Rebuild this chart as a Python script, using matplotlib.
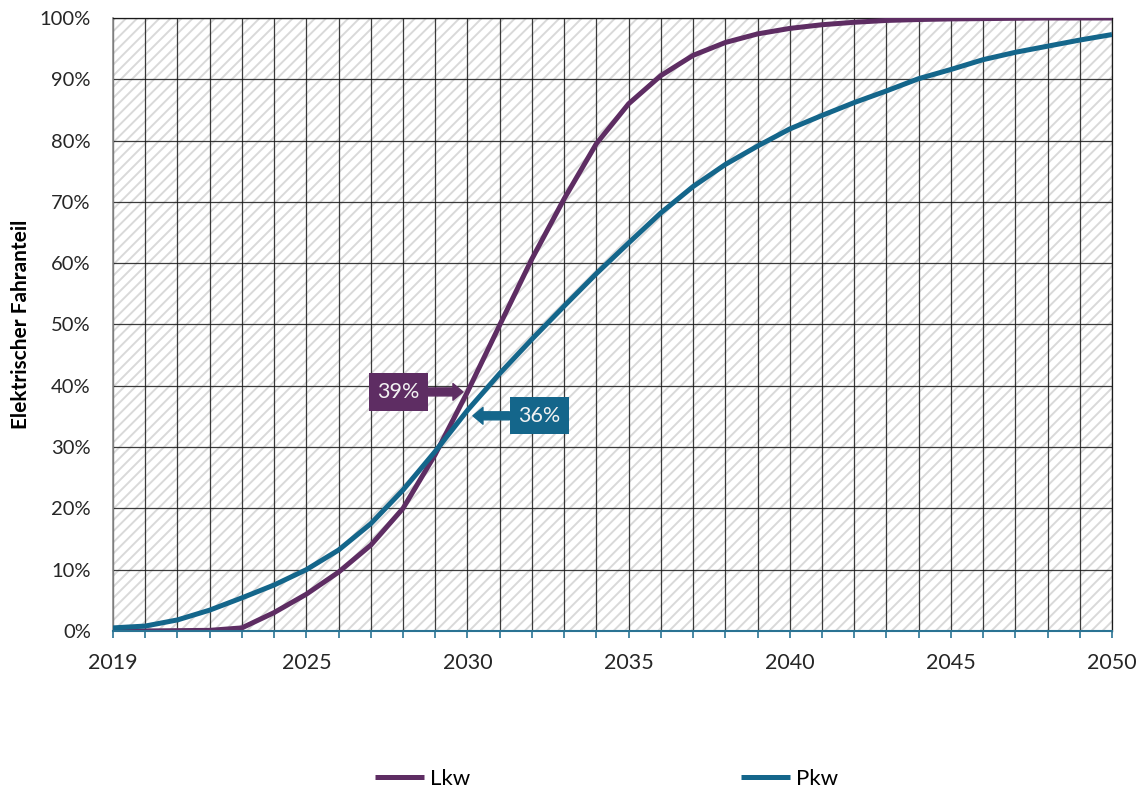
import matplotlib
matplotlib.use("Agg")
import matplotlib.pyplot as plt
from matplotlib.patches import Rectangle
from matplotlib.ticker import FixedLocator, FuncFormatter

plt.rcParams["font.family"] = ["Lato", "DejaVu Sans"]
plt.rcParams["hatch.linewidth"] = 1.4

# Elektrischer Fahranteil je Jahr (in %)
years = list(range(2019, 2051))
lkw = [0, 0, 0.05, 0.1, 0.5, 3.0, 6.0, 9.6, 14.0, 20.0, 28.8, 39.0,
       49.9, 60.7, 70.5, 79.5, 86.0, 90.6, 93.9, 96.0, 97.4, 98.3,
       98.9, 99.3, 99.6, 99.75, 99.85, 99.9, 99.95, 100, 100, 100]
pkw = [0.5, 0.8, 1.8, 3.4, 5.4, 7.5, 10.0, 13.2, 17.5, 23.0, 29.3, 36.0,
       42.0, 47.6, 53.0, 58.3, 63.3, 68.2, 72.5, 76.1, 79.1, 81.9,
       84.1, 86.2, 88.1, 90.1, 91.6, 93.2, 94.4, 95.4, 96.4, 97.3]
labelled_years = [2019, 2025, 2030, 2035, 2040, 2045, 2050]
mark_year = 2030

LKW_COLOR = "#5e2d63"
PKW_COLOR = "#14668b"
AXIS_COLOR = "#2a7393"

fig = plt.figure(figsize=(11.39, 7.89), dpi=100)
ax = fig.add_axes([0.0992, 0.2003, 0.8771, 0.7769])

# schraffierter Hintergrund
ax.add_patch(Rectangle((0, 0), 1, 1, transform=ax.transAxes, facecolor="white",
                       edgecolor="#d9d9d9", hatch="///", linewidth=0, zorder=0))

ax.plot(years, lkw, color=LKW_COLOR, lw=3.6, label="Lkw", zorder=3,
        solid_capstyle="butt")
ax.plot(years, pkw, color=PKW_COLOR, lw=3.6, label="Pkw", zorder=3,
        solid_capstyle="butt")

ax.set_xlim(2019, 2050)
ax.set_ylim(0, 100)

ax.xaxis.set_major_locator(FixedLocator(years))
ax.xaxis.set_major_formatter(FuncFormatter(
    lambda v, p: str(int(round(v))) if int(round(v)) in labelled_years else ""))
ax.yaxis.set_major_locator(FixedLocator(range(0, 101, 10)))
ax.yaxis.set_major_formatter(FuncFormatter(lambda v, p: f"{int(v)}%"))

ax.tick_params(axis="x", direction="out", length=5, width=1.2,
               color=AXIS_COLOR, pad=11, labelsize=15.5, labelcolor="#262626")
ax.tick_params(axis="y", length=0, pad=16, labelsize=14.5, labelcolor="#262626")

ax.grid(True, color="#1a1a1a", linewidth=0.9, alpha=0.85)
ax.set_axisbelow(True)

for side in ["top", "right"]:
    ax.spines[side].set_color("#1a1a1a")
    ax.spines[side].set_linewidth(0.9)
ax.spines["left"].set_color("#8c8c8c")
ax.spines["left"].set_linewidth(1.2)
ax.spines["bottom"].set_color(AXIS_COLOR)
ax.spines["bottom"].set_linewidth(1.5)
ax.spines["bottom"].set_zorder(4)

ax.set_ylabel("Elektrischer Fahranteil", fontsize=15, fontweight="bold",
              labelpad=6)

# Wertmarken für 2030
lkw_val = lkw[years.index(mark_year)]
pkw_val = pkw[years.index(mark_year)]

ax.text(2027.86, lkw_val, f"{lkw_val:.0f}%", ha="center", va="center",
        fontsize=15.5, color="#f2f2f2", zorder=6,
        bbox=dict(boxstyle="square,pad=0.4", fc=LKW_COLOR, ec="none"))
ax.annotate("", xy=(mark_year - 0.14, lkw_val), xytext=(2028.75, lkw_val),
            arrowprops=dict(arrowstyle="simple,head_length=0.6,head_width=1.0,tail_width=0.48",
                            mutation_scale=12, color=LKW_COLOR, shrinkA=0, shrinkB=0),
            zorder=6)

pkw_y = pkw_val - 0.9
ax.text(2032.23, pkw_y, f"{pkw_val:.0f}%", ha="center", va="center",
        fontsize=15.5, color="#f2f2f2", zorder=6,
        bbox=dict(boxstyle="square,pad=0.4", fc=PKW_COLOR, ec="none"))
ax.annotate("", xy=(mark_year + 0.17, pkw_y), xytext=(2031.3, pkw_y),
            arrowprops=dict(arrowstyle="simple,head_length=0.6,head_width=1.0,tail_width=0.48",
                            mutation_scale=12, color=PKW_COLOR, shrinkA=0, shrinkB=0),
            zorder=6)

fig.legend(loc="center", bbox_to_anchor=(0.5325, 0.013), ncol=2, frameon=False,
           fontsize=16, handlelength=2.2, handletextpad=0.25,
           columnspacing=12.2)

fig.savefig("out.png", dpi=100)
